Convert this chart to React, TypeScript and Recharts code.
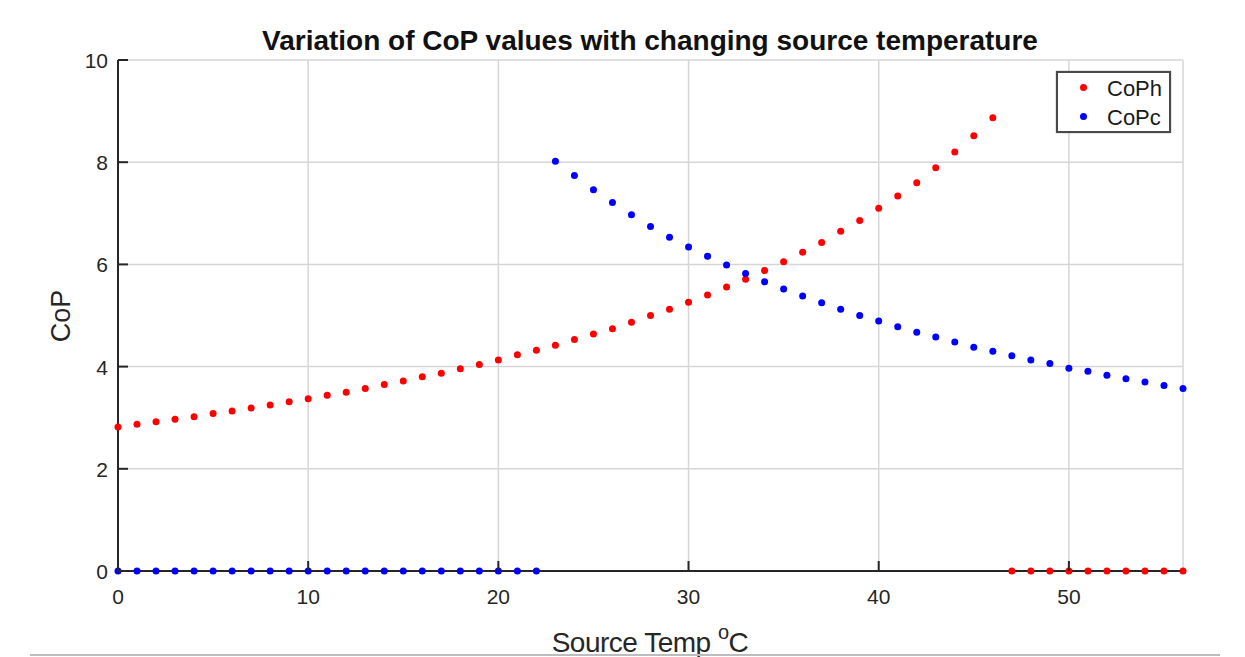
import React from 'react';
import { ScatterChart, Scatter, XAxis, YAxis, CartesianGrid, Legend } from 'recharts';

const temps = [
    0, 1, 2, 3, 4, 5, 6, 7, 8, 9, 10, 11, 12, 13, 14, 15, 16, 17, 18, 19,
    20, 21, 22, 23, 24, 25, 26, 27, 28, 29, 30, 31, 32, 33, 34, 35, 36, 37, 38, 39,
    40, 41, 42, 43, 44, 45, 46, 47, 48, 49, 50, 51, 52, 53, 54, 55, 56,
];

const copH = [
    2.82, 2.87, 2.92, 2.97, 3.02, 3.08, 3.13, 3.19, 3.25, 3.31, 3.37, 3.44, 3.5, 3.57, 3.65, 3.72, 3.8, 3.87, 3.96, 4.04,
    4.13, 4.23, 4.32, 4.42, 4.53, 4.64, 4.74, 4.87, 5.0, 5.12, 5.26, 5.4, 5.56, 5.71, 5.88, 6.05, 6.24, 6.43, 6.65, 6.86,
    7.1, 7.34, 7.6, 7.89, 8.2, 8.52, 8.87, 0, 0, 0, 0, 0, 0, 0, 0, 0, 0,
];

const copC = [
    0, 0, 0, 0, 0, 0, 0, 0, 0, 0, 0, 0, 0, 0, 0, 0, 0, 0, 0, 0,
    0, 0, 0, 8.02, 7.74, 7.46, 7.21, 6.97, 6.74, 6.53, 6.34, 6.16, 5.99, 5.82, 5.66, 5.52, 5.38, 5.25, 5.12, 5.0,
    4.89, 4.78, 4.67, 4.58, 4.48, 4.38, 4.3, 4.21, 4.13, 4.06, 3.97, 3.91, 3.83, 3.76, 3.7, 3.63, 3.57,
];

const seriesNames = ['CoPh', 'CoPc'];
const xTicks = [0, 10, 20, 30, 40, 50];
const yTicks = [0, 2, 4, 6, 8, 10];

const FONT = '"Liberation Sans", Arial, Helvetica, sans-serif';
const AXIS_COLOR = '#262626';

const hData = temps.map((t, i) => ({ t, v: copH[i] }));
const cData = temps.map((t, i) => ({ t, v: copC[i] }));

const XTick = (props: any) => {
    const { x, y, payload } = props;
    return (
        <g>
            <line x1={x} x2={x} y1={y} y2={y - 10} stroke={AXIS_COLOR} strokeWidth={2} />
            <text x={x} y={y + 33} textAnchor="middle" fontSize={21} fontFamily={FONT} fill={AXIS_COLOR}>
                {payload.value}
            </text>
        </g>
    );
};

const YTick = (props: any) => {
    const { x, y, payload } = props;
    return (
        <g>
            <line x1={x} x2={x + 10} y1={y} y2={y} stroke={AXIS_COLOR} strokeWidth={2} />
            <text x={x - 10} y={y + 8} textAnchor="end" fontSize={21} fontFamily={FONT} fill={AXIS_COLOR}>
                {payload.value}
            </text>
        </g>
    );
};

const dot = (color: string) => (p: any) => <circle cx={p.cx} cy={p.cy} r={3.5} fill={color} />;

const LegendBox = (props: any) => {
    const items = [...(props.payload || [])].sort(
        (a: any, b: any) => seriesNames.indexOf(a.value) - seriesNames.indexOf(b.value)
    );
    return (
        <div
            style={{
                width: 111,
                height: 58,
                border: '2px solid #4a4a4a',
                boxShadow: '0 0 1px #666',
                background: '#fff',
                fontFamily: FONT,
                fontSize: 22,
                color: '#1a1a1a',
                boxSizing: 'content-box',
            }}
        >
            {items.map((entry: any, i: number) => (
                <div key={i} style={{ position: 'relative', height: 29, lineHeight: '29px' }}>
                    <span
                        style={{
                            position: 'absolute',
                            left: 22,
                            top: 11,
                            width: 7,
                            height: 7,
                            borderRadius: '50%',
                            background: entry.color,
                        }}
                    />
                    <span style={{ position: 'absolute', left: 49, top: 1 }}>{entry.value}</span>
                </div>
            ))}
        </div>
    );
};

export default function App() {
    return (
        <div style={{ position: 'absolute', left: 0, top: 0, width: 1245, height: 657, background: '#fff', overflow: 'hidden' }}>
            <ScatterChart width={1245} height={657} margin={{ top: 60, right: 62, bottom: 0, left: 0 }}>
                <CartesianGrid stroke="#d6d6d6" strokeWidth={1.5} />
                <XAxis
                    type="number"
                    dataKey="t"
                    domain={[0, 56]}
                    ticks={xTicks}
                    height={86}
                    tickSize={0}
                    tickMargin={0}
                    tickLine={false}
                    axisLine={{ stroke: AXIS_COLOR, strokeWidth: 2 }}
                    tick={<XTick />}
                />
                <YAxis
                    type="number"
                    dataKey="v"
                    domain={[0, 10]}
                    ticks={yTicks}
                    width={118}
                    tickSize={0}
                    tickMargin={0}
                    tickLine={false}
                    axisLine={{ stroke: AXIS_COLOR, strokeWidth: 2 }}
                    tick={<YTick />}
                />
                <Legend
                    layout="vertical"
                    align="center"
                    verticalAlign="middle"
                    content={<LegendBox />}
                    wrapperStyle={{ left: 1056, top: 71, width: 115, height: 62 }}
                />
                <Scatter name={seriesNames[0]} data={hData} fill="#ff0000" shape={dot('#ff0000')} isAnimationActive={false} />
                <Scatter name={seriesNames[1]} data={cData} fill="#0000ff" shape={dot('#0000ff')} isAnimationActive={false} />
            </ScatterChart>
            <svg width={1245} height={657} style={{ position: 'absolute', left: 0, top: 0, pointerEvents: 'none' }}>
                <text x={650} y={50} textAnchor="middle" fontSize={28} fontWeight="bold" fontFamily={FONT} fill="#111">
                    Variation of CoP values with changing source temperature
                </text>
                <text x={650} y={652} textAnchor="middle" fontSize={28} fontFamily={FONT} fill={AXIS_COLOR} letterSpacing={-0.5}>
                    Source Temp <tspan fontSize={20} dy={-13}>o</tspan>
                    <tspan dy={13}>C</tspan>
                </text>
                <text x={70} y={316} textAnchor="middle" fontSize={27} fontFamily={FONT} fill={AXIS_COLOR} transform="rotate(-90 70 316)">
                    CoP
                </text>
                <rect x={30} y={654} width={1190} height={2} fill="#bdbdbd" />
            </svg>
        </div>
    );
}
